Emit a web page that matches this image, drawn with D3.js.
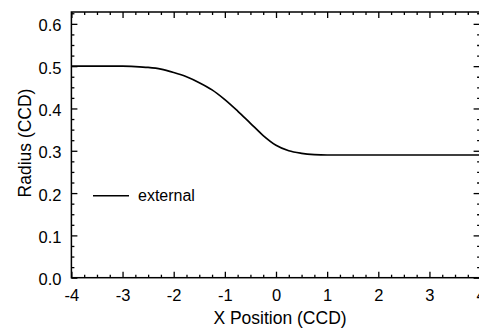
<!DOCTYPE html>
<html>
<head>
<meta charset="utf-8">
<script src="https://cdn.jsdelivr.net/npm/d3@7"></script>
<style>
  html, body { margin: 0; padding: 0; background: #fff; }
  svg { display: block; }
  text { font-family: "Liberation Sans", Arial, Helvetica, sans-serif; fill: #000; }
</style>
</head>
<body>
<svg id="chart" width="479" height="328"></svg>
<script>
// ---- data ----
const xPos = [-4, -3.5, -3, -2.75, -2.5, -2.25, -2, -1.75, -1.5, -1.25, -1, -0.75, -0.5, -0.25, 0, 0.25, 0.5, 0.75, 1, 1.5, 2, 2.5, 3, 3.5, 4];
const radius = [0.500, 0.500, 0.500, 0.499, 0.497, 0.493, 0.485, 0.475, 0.461, 0.444, 0.421, 0.394, 0.365, 0.336, 0.313, 0.300, 0.294, 0.291, 0.290, 0.290, 0.290, 0.290, 0.290, 0.290, 0.290];
const xTicks = [-4, -3, -2, -1, 0, 1, 2, 3, 4];
const yTicks = [0.0, 0.1, 0.2, 0.3, 0.4, 0.5, 0.6];
const seriesName = "external";
const xTitle = "X Position (CCD)";
const yTitle = "Radius (CCD)";

// ---- layout ----
const svg = d3.select("#chart");
const mLeft = 71.4, mRight = 480.6, mTop = 12, mBottom = 277.7;
const x = d3.scaleLinear().domain([-4, 4]).range([mLeft, mRight]);
const y = d3.scaleLinear().domain([0, 0.628]).range([mBottom, mTop]);

const xMinor = d3.range(-4, 4.001, 0.25);
const yMinor = d3.range(0, 0.6251, 0.025);

// frame
svg.append("rect")
  .attr("x", mLeft).attr("y", mTop)
  .attr("width", mRight - mLeft).attr("height", mBottom - mTop)
  .attr("fill", "none").attr("stroke", "#000").attr("stroke-width", 1.5);

const isMajorX = v => Math.abs(v - Math.round(v)) < 1e-6;
const isMajorY = v => Math.abs(v * 10 - Math.round(v * 10)) < 1e-6;
const labelFont = 16.5;

// bottom axis
const gB = svg.append("g").attr("transform", `translate(0,${mBottom})`);
gB.call(d3.axisBottom(x).tickValues(xMinor).tickSize(0).tickFormat(""));
gB.select(".domain").remove();
gB.selectAll(".tick line").attr("y2", d => isMajorX(d) ? -6 : -3).attr("stroke", "#000").attr("stroke-width", 1.3);
const gBL = svg.append("g").attr("transform", `translate(0,${mBottom})`);
gBL.call(d3.axisBottom(x).tickValues(xTicks).tickSize(0).tickPadding(11.6).tickFormat(d => String(d)));
gBL.select(".domain").remove();
gBL.selectAll("text").attr("font-size", labelFont).attr("font-family", "Liberation Sans, Arial, sans-serif");

// top axis
const gT = svg.append("g").attr("transform", `translate(0,${mTop})`);
gT.call(d3.axisTop(x).tickValues(xMinor).tickSize(0).tickFormat(""));
gT.select(".domain").remove();
gT.selectAll(".tick line").attr("y2", d => isMajorX(d) ? 6 : 3).attr("stroke", "#000").attr("stroke-width", 1.3);

// left axis
const gL = svg.append("g").attr("transform", `translate(${mLeft},0)`);
gL.call(d3.axisLeft(y).tickValues(yMinor).tickSize(0).tickFormat(""));
gL.select(".domain").remove();
gL.selectAll(".tick line").attr("x2", d => isMajorY(d) ? 6 : 3).attr("stroke", "#000").attr("stroke-width", 1.3);
const gLL = svg.append("g").attr("transform", `translate(${mLeft},0)`);
gLL.call(d3.axisLeft(y).tickValues(yTicks).tickSize(0).tickPadding(10).tickFormat(d3.format(".1f")));
gLL.select(".domain").remove();
gLL.selectAll("text").attr("font-size", labelFont).attr("dy", "0.42em").attr("font-family", "Liberation Sans, Arial, sans-serif");

// right axis
const gR = svg.append("g").attr("transform", `translate(${mRight},0)`);
gR.call(d3.axisRight(y).tickValues(yMinor).tickSize(0).tickFormat(""));
gR.select(".domain").remove();
gR.selectAll(".tick line").attr("x2", d => isMajorY(d) ? -7 : -3.5).attr("stroke", "#000").attr("stroke-width", 1.3);

// line
const data = xPos.map((v, i) => ({ x: v, y: radius[i] }));
svg.append("path")
  .datum(data)
  .attr("fill", "none")
  .attr("stroke", "#000")
  .attr("stroke-width", 1.7)
  .attr("d", d3.line().x(d => x(d.x)).y(d => y(d.y)).curve(d3.curveMonotoneX));

// legend
svg.append("line")
  .attr("x1", 93).attr("x2", 129).attr("y1", 195.7).attr("y2", 195.7)
  .attr("stroke", "#000").attr("stroke-width", 1.4);
svg.append("text").attr("x", 138).attr("y", 201).attr("font-size", 16).text(seriesName);

// titles
svg.append("text").attr("x", 280).attr("y", 323.5)
  .attr("text-anchor", "middle").attr("font-size", 17.5).text(xTitle);
svg.append("text")
  .attr("transform", `translate(31,143) rotate(-90)`)
  .attr("text-anchor", "middle").attr("font-size", 17.5).text(yTitle);
</script>
</body>
</html>
